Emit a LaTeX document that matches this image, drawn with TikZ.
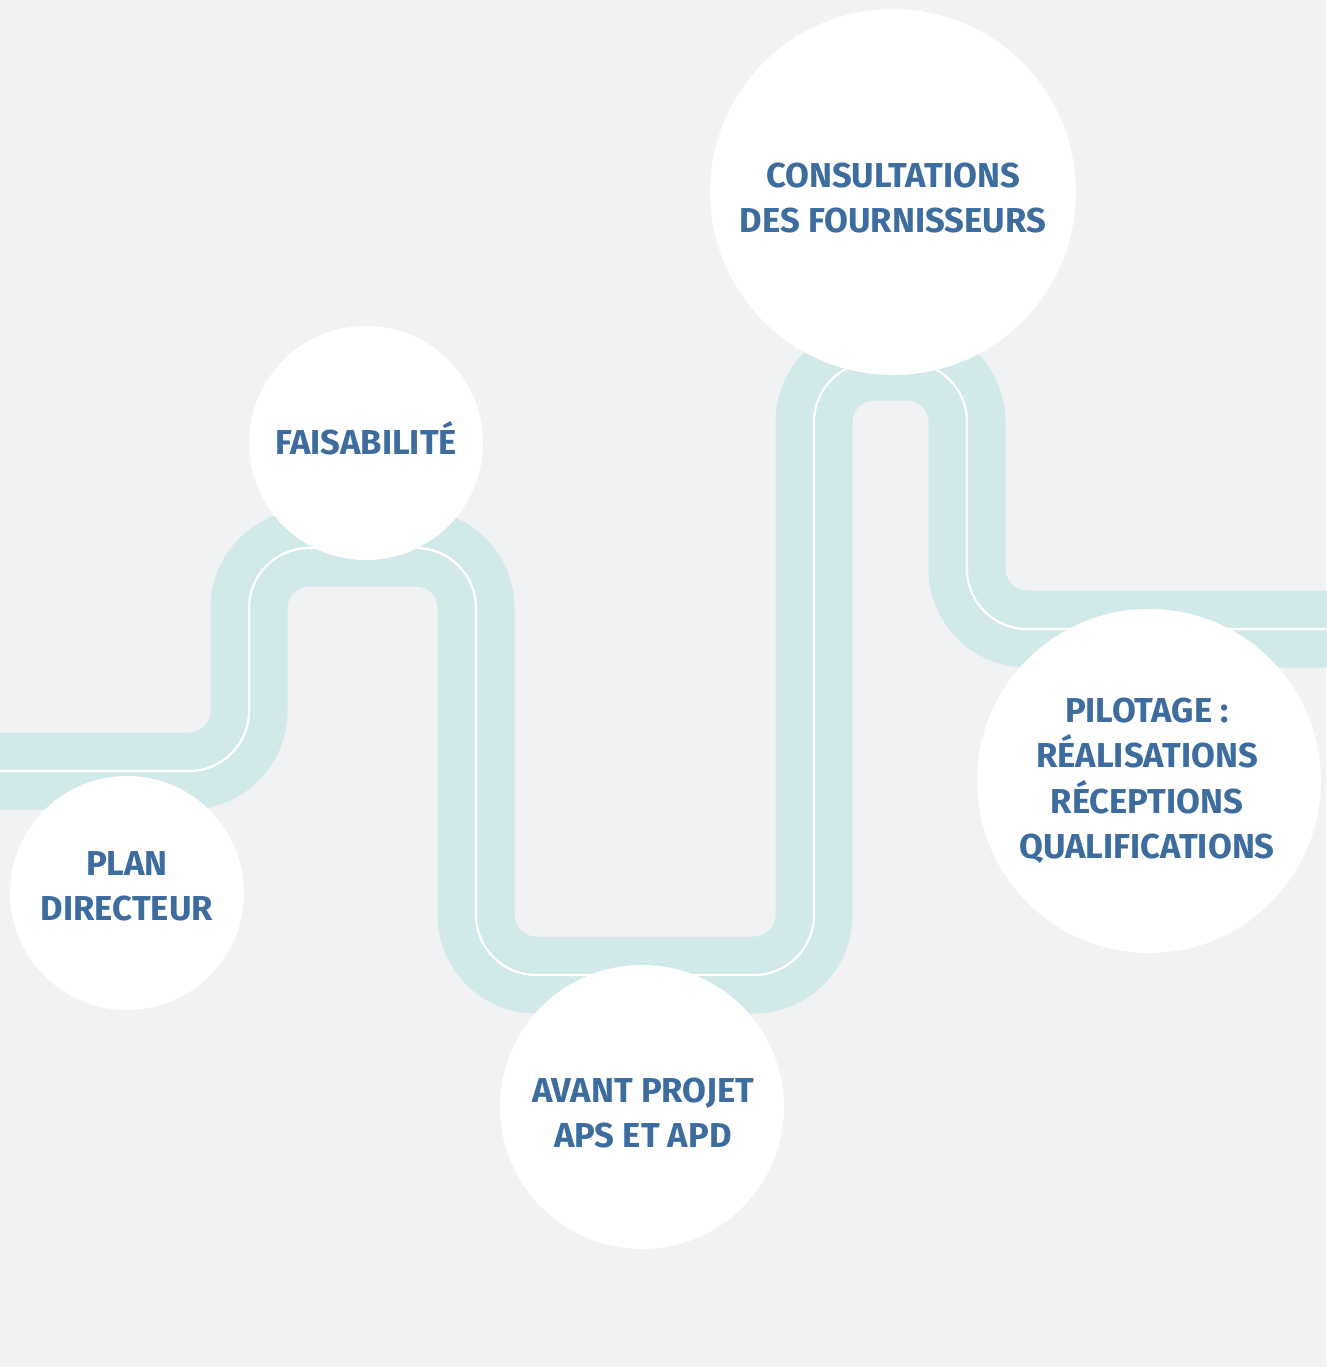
\documentclass[tikz,border=0pt]{standalone}
\usepackage{fontspec}
\setmainfont{Fira Sans}
\definecolor{bg}{HTML}{F1F2F4}
\definecolor{road}{HTML}{D2E9E9}
\definecolor{txt}{HTML}{3D6C9E}
\begin{document}
\begin{tikzpicture}[x=1pt,y=-1pt,
  stage/.style={circle,fill=white,draw=none,inner sep=0pt,minimum size=#1},
  lbl/.style={anchor=base,inner sep=0pt,text=txt,font=\fontsize{34.6}{40}\selectfont\bfseries}]
\useasboundingbox (0,0) rectangle (1326,1367);
\fill[bg] (0,0) rectangle (1326,1367);
% road
\coordinate (r0) at (-60,771);
\coordinate (r9) at (1390,629);
\draw[road,line width=77pt,rounded corners=60pt]
  (r0) -- (249,771) -- (249,548) -- (476,548) -- (476,975) -- (814,975)
  -- (814,362) -- (967,362) -- (967,629) -- (r9);
\draw[white,line width=2.2pt,rounded corners=60pt]
  (r0) -- (249,771) -- (249,548) -- (476,548) -- (476,975) -- (814,975)
  -- (814,362) -- (967,362) -- (967,629) -- (r9);
% stages
\node[stage=234pt] (plan) at (127,893) {};
\node[stage=234pt] (fais) at (366,443) {};
\node[stage=284pt] (avant) at (642,1107) {};
\node[stage=366pt] (cons) at (893,192) {};
\node[stage=344pt] (pil) at (1149,781) {};
% labels
\node[lbl] (plan1) at (127,875) {PLAN};
\node[lbl] (plan2) at (127,920) {DIRECTEUR};
\node[lbl] (fais1) at (366,454) {FAISABILITÉ};
\node[lbl] (cons1) at (893,188) {CONSULTATIONS};
\node[lbl] (cons2) at (893,233) {DES FOURNISSEURS};
\node[lbl] (avant1) at (643,1102) {AVANT PROJET};
\node[lbl] (avant2) at (643,1147) {APS ET APD};
\node[lbl] (pil1) at (1147,722) {PILOTAGE :};
\node[lbl] (pil2) at (1147,767.5) {RÉALISATIONS};
\node[lbl] (pil3) at (1147,813) {RÉCEPTIONS};
\node[lbl] (pil4) at (1147,858.5) {QUALIFICATIONS};
\end{tikzpicture}
\end{document}
